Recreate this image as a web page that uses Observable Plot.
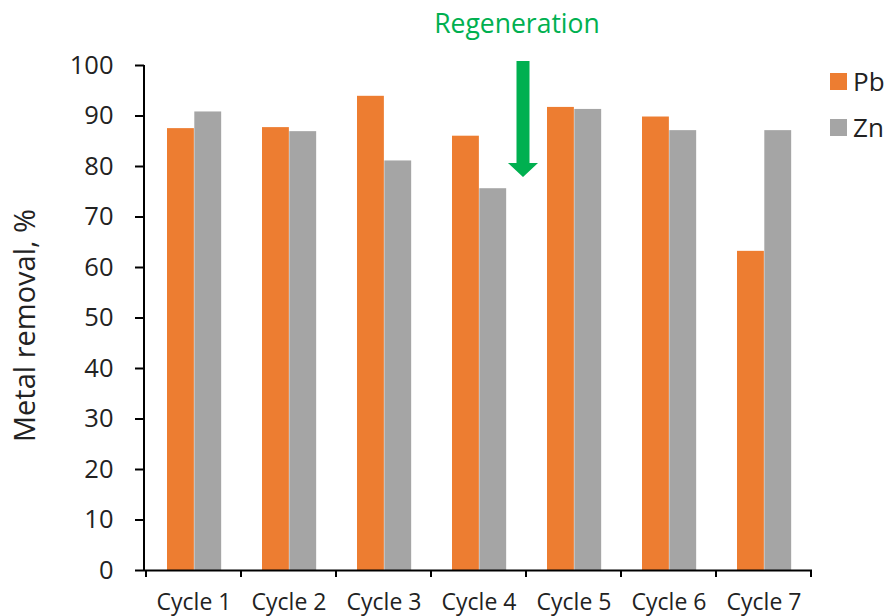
<!DOCTYPE html>
<html>
<head>
<meta charset="utf-8">
<script src="https://cdn.jsdelivr.net/npm/d3@7"></script>
<script src="https://cdn.jsdelivr.net/npm/@observablehq/plot@0.6"></script>
<style>
  html, body { margin: 0; padding: 0; background: #fff; }
  #chart { position: relative; width: 892px; height: 616px; font-family: "Open Sans", sans-serif; }
  #chart svg { display: block; }
  #chart svg [aria-label="y-axis tick label"] { font-size: 25.5px; }
  #chart svg [aria-label="x-axis tick label"] { font-size: 23px; }
  #legend { position: absolute; left: 830px; top: 69px; }
  #legend .row { display: flex; align-items: center; height: 24px; margin-bottom: 22px; font-size: 26px; color: #222; }
  #legend .sw { width: 17px; height: 17px; margin-right: 6px; }
</style>
</head>
<body>
<div id="chart"></div>
<script>
// Metal removal per adsorption cycle
const cycles = ["Cycle 1", "Cycle 2", "Cycle 3", "Cycle 4", "Cycle 5", "Cycle 6", "Cycle 7"];
const pbRemoval = [87.5, 87.7, 93.9, 86.0, 91.7, 89.8, 63.2];
const znRemoval = [90.8, 86.9, 81.1, 75.6, 91.3, 87.1, 87.1];
const metals = ["Pb", "Zn"];
const metalColors = ["#ed7d31", "#a5a5a5"];
const yTicks = [0, 10, 20, 30, 40, 50, 60, 70, 80, 90, 100];
const yLabel = "Metal removal, %";

// Regeneration step between two cycles
const regenerationAfter = "Cycle 4";
const regenerationLabel = "Regeneration";
const regenerationColor = "#00b050";

const rows = cycles.flatMap((cycle, i) => [
  {cycle, metal: "Pb", value: pbRemoval[i]},
  {cycle, metal: "Zn", value: znRemoval[i]}
]);

const width = 892, height = 616;
const marginLeft = 144, marginRight = 80, marginTop = 65, marginBottom = 46;
const step = (width - marginLeft - marginRight) / cycles.length;
const barW = 27.3;
const groupLeft = 21;

// Axis lines, category boundary ticks, y title and the regeneration arrow
function decorations(index, {x, y}) {
  const g = d3.create("svg:g");
  const [x0] = x.range();
  const y0 = y(0), yTop = y(100);
  g.append("line")
    .attr("x1", x0).attr("x2", x0).attr("y1", yTop).attr("y2", y0)
    .attr("stroke", "#000").attr("stroke-width", 2);
  const edges = cycles.map(c => x(c)).concat([x(cycles[cycles.length - 1]) + x.bandwidth()]);
  g.append("g").selectAll("line").data(edges).join("line")
    .attr("x1", d => d).attr("x2", d => d)
    .attr("y1", y0).attr("y2", y0 + 7)
    .attr("stroke", "#000").attr("stroke-width", 2);
  g.append("text")
    .attr("transform", `translate(35,${(y0 + yTop) / 2 + 8}) rotate(-90)`)
    .attr("text-anchor", "middle")
    .attr("font-size", 29)
    .attr("fill", "#222")
    .text(yLabel);

  const cx = x(regenerationAfter) + x.bandwidth() - 3;
  const top = yTop - 4, tip = y(77.8), headH = 14, shaftHalf = 6.5, headHalf = 15;
  g.append("path")
    .attr("d", `M${cx - shaftHalf},${top}L${cx + shaftHalf},${top}L${cx + shaftHalf},${tip - headH}` +
      `L${cx + headHalf},${tip - headH}L${cx},${tip}L${cx - headHalf},${tip - headH}` +
      `L${cx - shaftHalf},${tip - headH}Z`)
    .attr("fill", regenerationColor);
  g.append("text")
    .attr("x", cx - 6).attr("y", yTop - 32)
    .attr("text-anchor", "middle")
    .attr("font-size", 26.5)
    .attr("fill", regenerationColor)
    .text(regenerationLabel);
  return g.node();
}

const chart = Plot.plot({
  width, height, marginLeft, marginRight, marginTop, marginBottom,
  style: {fontFamily: "'Open Sans', sans-serif", fontSize: "24px", color: "#222", background: "#fff"},
  x: {domain: cycles, padding: 0, label: null},
  y: {domain: [0, 100], label: null},
  color: {domain: metals, range: metalColors},
  marks: [
    Plot.barY(rows.filter(d => d.metal === "Pb"), {
      x: "cycle", y: "value", fill: "metal",
      insetLeft: groupLeft, insetRight: step - groupLeft - barW
    }),
    Plot.barY(rows.filter(d => d.metal === "Zn"), {
      x: "cycle", y: "value", fill: "metal",
      insetLeft: groupLeft + barW, insetRight: step - groupLeft - 2 * barW
    }),
    Plot.ruleY([0], {stroke: "#000", strokeWidth: 2}),
    Plot.axisY({ticks: yTicks, tickSize: 9, tickPadding: 22, strokeWidth: 2, stroke: "#000", label: null}),
    Plot.axisX({tickSize: 0, tickPadding: 23, label: null}),
    decorations
  ]
});

const host = document.getElementById("chart");
host.appendChild(chart);

const legend = d3.select(host).append("div").attr("id", "legend");
metals.forEach((m, i) => {
  const row = legend.append("div").attr("class", "row");
  row.append("div").attr("class", "sw").style("background", metalColors[i]);
  row.append("span").text(m);
});
</script>
</body>
</html>
